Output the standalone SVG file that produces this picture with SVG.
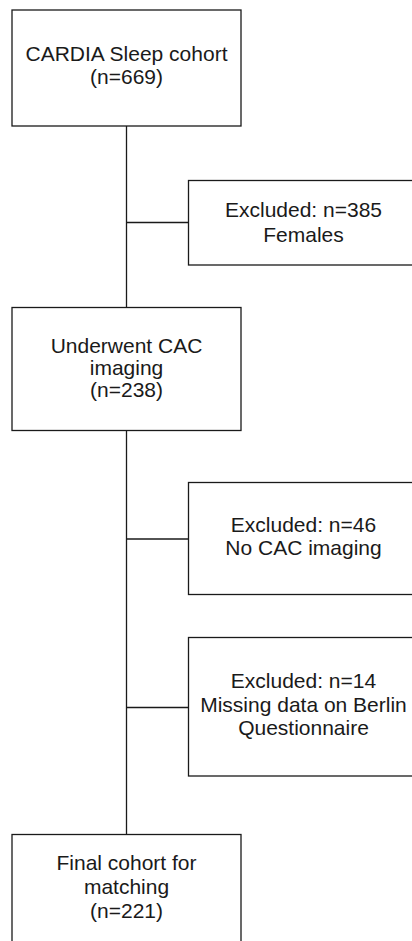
<svg xmlns="http://www.w3.org/2000/svg" width="412" height="941" viewBox="0 0 412 941">
<style>
.box{fill:#fff;stroke:#1a1a1a;stroke-width:1.3}
.ln{stroke:#1a1a1a;stroke-width:1.3;fill:none}
text{font-family:"Liberation Sans",Arial,sans-serif;font-size:21px;fill:#1a1a1a;text-anchor:middle}
</style>
<rect width="412" height="941" fill="#fff"/>
<g id="connectors">
<line class="ln" x1="126.5" y1="126" x2="126.5" y2="307.5"/>
<line class="ln" x1="126.5" y1="430.5" x2="126.5" y2="834.5"/>
<line class="ln" x1="126.5" y1="222.5" x2="188.5" y2="222.5"/>
<line class="ln" x1="126.5" y1="539" x2="188.5" y2="539"/>
<line class="ln" x1="126.5" y1="707.5" x2="188.5" y2="707.5"/>
</g>
<g id="n1">
<rect class="box" x="12" y="10" width="229" height="116"/>
<text x="126.5" y="61">CARDIA Sleep cohort</text>
<text x="126.5" y="84">(n=669)</text>
</g>
<g id="n2">
<rect class="box" x="188.5" y="180.5" width="230" height="84.5"/>
<text x="303.5" y="216.5">Excluded: n=385</text>
<text x="303.5" y="241.5">Females</text>
</g>
<g id="n3">
<rect class="box" x="12" y="307.5" width="229" height="123"/>
<text x="126.5" y="352.5">Underwent CAC</text>
<text x="126.5" y="374.5">imaging</text>
<text x="126.5" y="396.5">(n=238)</text>
</g>
<g id="n4">
<rect class="box" x="188.5" y="482.5" width="230" height="112"/>
<text x="303.5" y="532">Excluded: n=46</text>
<text x="303.5" y="554.5">No CAC imaging</text>
</g>
<g id="n5">
<rect class="box" x="188.5" y="637.5" width="230" height="138.5"/>
<text x="303.5" y="687.5">Excluded: n=14</text>
<text x="303.5" y="711.5">Missing data on Berlin</text>
<text x="303.5" y="735">Questionnaire</text>
</g>
<g id="n6">
<rect class="box" x="12" y="834.5" width="229" height="120"/>
<text x="126.5" y="870">Final cohort for</text>
<text x="126.5" y="894">matching</text>
<text x="126.5" y="918">(n=221)</text>
</g>
</svg>
